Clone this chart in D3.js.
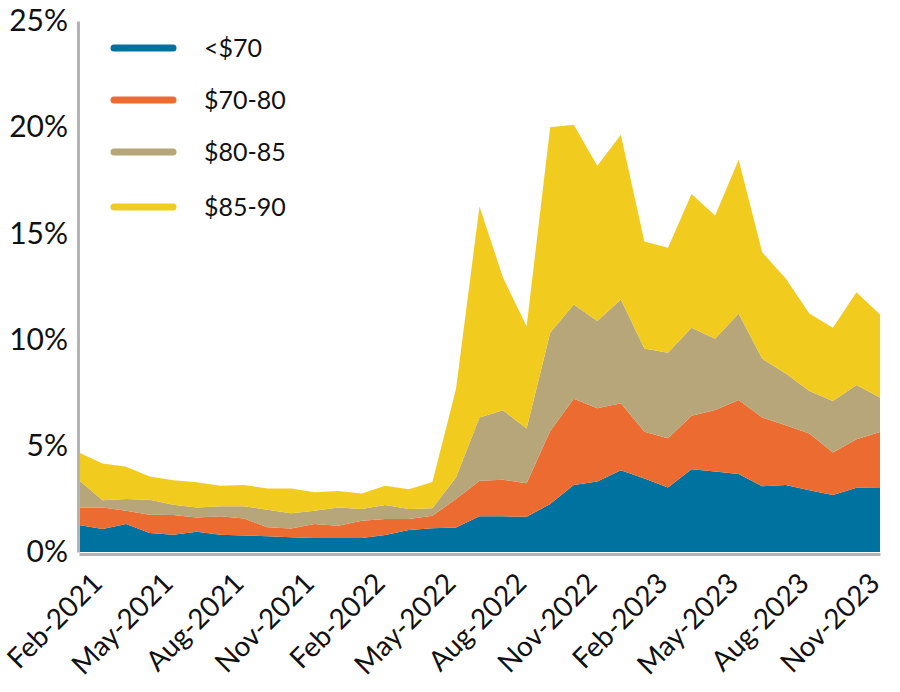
<!DOCTYPE html>
<html><head><meta charset="utf-8">
<script src="https://cdn.jsdelivr.net/npm/d3@7"></script>
<style>body{margin:0;background:#fff} svg{display:block}</style>
</head><body>
<svg id="chart" width="900" height="692"></svg>
<script>
const months = [
  "Jan-2021","Feb-2021","Mar-2021","Apr-2021","May-2021","Jun-2021","Jul-2021","Aug-2021","Sep-2021","Oct-2021","Nov-2021","Dec-2021",
  "Jan-2022","Feb-2022","Mar-2022","Apr-2022","May-2022","Jun-2022","Jul-2022","Aug-2022","Sep-2022","Oct-2022","Nov-2022","Dec-2022",
  "Jan-2023","Feb-2023","Mar-2023","Apr-2023","May-2023","Jun-2023","Jul-2023","Aug-2023","Sep-2023","Oct-2023","Nov-2023"
];
const seriesNames = ["<$70", "$70-80", "$80-85", "$85-90"];
const under70  = [1.27,1.08,1.32,0.89,0.81,0.95,0.81,0.78,0.74,0.69,0.66,0.66,0.66,0.80,1.04,1.12,1.15,1.68,1.68,1.66,2.26,3.16,3.32,3.85,3.46,3.04,3.90,3.79,3.67,3.09,3.16,2.91,2.68,3.02,3.01];
const s70to80  = [0.83,1.02,0.62,0.86,0.93,0.68,0.87,0.80,0.42,0.42,0.66,0.58,0.81,0.75,0.51,0.59,1.34,1.67,1.72,1.58,3.44,4.06,3.45,3.15,2.20,2.32,2.51,2.90,3.49,3.24,2.81,2.67,2.01,2.29,2.64];
const s80to85  = [1.28,0.34,0.55,0.71,0.48,0.47,0.47,0.57,0.83,0.71,0.62,0.86,0.55,0.66,0.47,0.35,1.02,2.98,3.27,2.57,4.62,4.43,4.10,4.89,3.92,4.02,4.15,3.35,4.07,2.77,2.43,2.00,2.42,2.55,1.62];
const s85to90  = [1.31,1.73,1.52,1.10,1.16,1.18,0.97,1.01,1.00,1.17,0.87,0.77,0.74,0.91,0.94,1.23,4.15,9.94,6.24,4.82,9.68,8.46,7.32,7.75,5.04,4.94,6.30,5.80,7.24,5.01,4.48,3.65,3.45,4.37,3.91];
const yTicks = [0, 5, 10, 15, 20, 25];
const xTickLabels = ["Feb-2021","May-2021","Aug-2021","Nov-2021","Feb-2022","May-2022","Aug-2022","Nov-2022","Feb-2023","May-2023","Aug-2023","Nov-2023"];
const colors = ["#00729F", "#EB6B30", "#B7A679", "#F2CB1F"];

const FONT = "Lato, 'Open Sans', sans-serif";
const svg = d3.select("#chart");

const rows = months.map((m, i) => ({
  month: m,
  [seriesNames[0]]: under70[i],
  [seriesNames[1]]: s70to80[i],
  [seriesNames[2]]: s80to85[i],
  [seriesNames[3]]: s85to90[i]
}));
const stacked = d3.stack().keys(seriesNames)(rows);

const x = d3.scalePoint().domain(months).range([79, 880]);
const y = d3.scaleLinear().domain([0, 25]).range([552, 21]);

const area = d3.area()
  .x(d => x(d.data.month))
  .y0(d => y(d[0]))
  .y1(d => y(d[1]));

svg.append("g").selectAll("path").data(stacked).join("path")
  .attr("d", area)
  .attr("fill", (d, i) => colors[i]);

// Y axis
const yAxis = svg.append("g").attr("transform", "translate(78,0)")
  .call(d3.axisLeft(y).tickValues(yTicks).tickFormat(d => d + "%").tickSize(0).tickPadding(10));
yAxis.select(".domain").attr("stroke", "#B4B4B4").attr("stroke-width", 3);
yAxis.selectAll("text").attr("font-family", FONT).attr("font-size", 30).attr("fill", "#111");

// X axis
const xAxis = svg.append("g").attr("transform", "translate(0,554)")
  .call(d3.axisBottom(x).tickValues(xTickLabels).tickSize(0).tickSizeOuter(0));
xAxis.select(".domain").attr("stroke", "#B4B4B4").attr("stroke-width", 3);
xAxis.selectAll("text")
  .attr("font-family", FONT).attr("font-size", 28).attr("fill", "#111")
  .attr("x", 0).attr("y", 0).attr("dy", 0)
  .attr("text-anchor", "end")
  .attr("transform", "translate(1,31) rotate(-45)");

// Legend
const legendY = [48, 100, 152, 207];
const legend = svg.append("g");
seriesNames.forEach((name, i) => {
  legend.append("line")
    .attr("x1", 114).attr("x2", 173)
    .attr("y1", legendY[i]).attr("y2", legendY[i])
    .attr("stroke", colors[i]).attr("stroke-width", 7).attr("stroke-linecap", "round");
  legend.append("text")
    .attr("x", 204).attr("y", legendY[i]).attr("dy", "0.35em")
    .attr("font-family", FONT).attr("font-size", 25).attr("fill", "#111")
    .text(name);
});
</script>
</body></html>
